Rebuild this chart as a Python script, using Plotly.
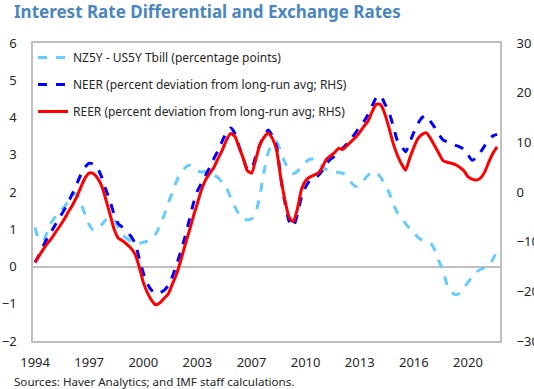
import plotly.graph_objects as go

# Quarterly observations, 1994Q1 - 2021Q4
quarters = [f"{y}Q{q}" for y in range(1994, 2022) for q in range(1, 5)]

# NZ 5-year minus US 5-year T-bill yield (percentage points, left axis)
nz_us_spread = [
    1.05, 0.70, 0.70, 0.95, 1.20, 1.35, 1.48, 1.60, 1.75, 1.92,
    1.95, 1.70, 1.40, 1.12, 0.98, 1.00, 1.12, 1.25, 1.32, 1.25,
    1.05, 0.85, 0.76, 0.68, 0.63, 0.62, 0.65, 0.68, 0.75, 0.88,
    1.10, 1.38, 1.70, 2.00, 2.30, 2.50, 2.65, 2.72, 2.65, 2.56,
    2.54, 2.55, 2.50, 2.45, 2.38, 2.25, 2.10, 1.85, 1.60, 1.40,
    1.28, 1.25, 1.28, 1.45, 1.90, 2.55, 3.05, 3.32, 3.35, 3.10,
    2.80, 2.60, 2.50, 2.55, 2.68, 2.80, 2.88, 2.88, 2.78, 2.68,
    2.60, 2.55, 2.55, 2.52, 2.50, 2.40, 2.25, 2.15, 2.18, 2.32,
    2.45, 2.53, 2.52, 2.40, 2.20, 2.00, 1.70, 1.45, 1.30, 1.15,
    1.02, 0.90, 0.78, 0.71, 0.67, 0.63, 0.45, 0.15, -0.10, -0.50,
    -0.68, -0.76, -0.72, -0.58, -0.42, -0.28, -0.15, -0.08, -0.04, 0.02,
    0.20, 0.40,
]

# Nominal effective exchange rate, % deviation from long-run average (right axis)
neer_dev = [
    -14.2, -12.6, -10.8, -9.2, -7.8, -6.4, -5.0, -3.6, -2.0, -0.3,
    1.6, 3.5, 5.0, 5.8, 5.6, 4.8, 3.0, 0.5, -1.8, -4.5,
    -6.4, -7.1, -7.9, -8.9, -10.3, -13.3, -16.3, -18.5, -19.8, -20.5,
    -20.3, -19.8, -18.8, -17.0, -14.6, -12.0, -9.1, -5.8, -2.4, 0.2,
    1.8, 3.4, 5.0, 6.8, 8.4, 10.3, 12.0, 12.9, 11.8, 9.2,
    6.8, 4.6, 4.6, 7.2, 9.5, 11.2, 12.5, 11.3, 9.2, 3.0,
    -2.0, -5.8, -7.0, -4.6, -1.0, 1.0, 2.3, 2.9, 3.3, 4.3,
    5.7, 6.6, 7.2, 8.0, 8.9, 9.8, 10.8, 11.9, 13.2, 14.2,
    15.6, 17.4, 19.0, 19.4, 17.8, 16.2, 13.4, 10.5, 9.3, 8.1,
    10.0, 12.0, 13.8, 15.0, 15.4, 14.2, 13.0, 11.6, 10.5, 10.1,
    9.7, 9.4, 9.1, 8.6, 7.5, 6.4, 6.9, 8.0, 9.3, 10.5,
    11.3, 11.6,
]

# Real effective exchange rate, % deviation from long-run average (right axis)
reer_dev = [
    -14.1, -12.8, -11.5, -10.3, -9.3, -8.0, -6.8, -5.5, -4.0, -2.6,
    -1.0, 1.0, 2.8, 3.8, 3.7, 2.8, 1.2, -1.5, -4.5, -7.5,
    -9.3, -9.8, -10.5, -11.3, -12.5, -15.0, -18.2, -20.3, -21.8, -22.7,
    -22.3, -21.4, -20.5, -18.5, -16.5, -13.8, -10.8, -8.0, -5.0, -2.3,
    0.5, 2.5, 3.8, 5.0, 6.8, 8.5, 10.5, 11.8, 11.2, 9.0,
    6.8, 4.3, 3.8, 6.5, 9.5, 11.0, 11.9, 10.8, 8.5, 3.0,
    -1.5, -5.0, -6.0, -3.5, 0.5, 2.3, 3.0, 3.4, 3.8, 5.0,
    6.6, 7.3, 8.0, 8.8, 8.6, 9.4, 10.2, 11.0, 12.0, 13.2,
    14.3, 16.2, 17.7, 17.6, 15.8, 13.0, 9.9, 7.5, 5.7, 4.4,
    6.8, 9.0, 10.8, 11.6, 11.9, 10.8, 9.3, 7.8, 6.3, 6.0,
    5.8, 5.5, 5.0, 4.3, 3.1, 2.6, 2.4, 2.8, 4.0, 6.0,
    7.8, 9.1,
]

tick_years = ["1994", "1997", "2000", "2003", "2007", "2010", "2013", "2016", "2020"]
tick_every = 13

FONT = "Noto Sans"
x = list(range(len(quarters)))

fig = go.Figure()
fig.add_trace(go.Scatter(
    x=x, y=nz_us_spread, name="NZ5Y - US5Y Tbill (percentage points)",
    mode="lines", line=dict(color="#66CCFF", width=3, dash="dash", shape="spline", smoothing=0.6),
    legendgroup="a", customdata=quarters,
))
fig.add_trace(go.Scatter(
    x=x, y=neer_dev, name="NEER (percent deviation from long-run avg; RHS)",
    mode="lines", line=dict(color="#0000FF", width=3, dash="dash", shape="spline", smoothing=0.6),
    yaxis="y2", legendgroup="b", customdata=quarters,
))
fig.add_trace(go.Scatter(
    x=x, y=reer_dev, name="REER (percent deviation from long-run avg; RHS)",
    mode="lines", line=dict(color="#FF0000", width=3, shape="spline", smoothing=0.6),
    yaxis="y2", legendgroup="c", customdata=quarters,
))

fig.update_layout(
    width=534, height=389,
    margin=dict(l=33, r=34, t=43, b=48),
    paper_bgcolor="white", plot_bgcolor="white",
    font=dict(family=FONT, size=13, color="#262626"),
    showlegend=True,
    legend=dict(
        x=0.0, y=1.0, xanchor="left", yanchor="top",
        bgcolor="rgba(0,0,0,0)", font=dict(size=12, color="#262626"),
        tracegroupgap=8,
    ),
    xaxis=dict(
        range=[-0.5, 111.7],
        tickvals=[i * tick_every for i in range(len(tick_years))],
        ticktext=tick_years,
        showgrid=False, zeroline=False, automargin=False,
        showline=True, linecolor="#BFBFBF", linewidth=1.5, mirror=True,
        ticks="outside", ticklen=9, tickcolor="rgba(0,0,0,0)",
    ),
    yaxis=dict(
        range=[-2, 6], dtick=1, automargin=False,
        showgrid=False,
        zeroline=True, zerolinecolor="#BFBFBF", zerolinewidth=1.5,
        showline=True, linecolor="#BFBFBF", linewidth=1.5, mirror=True,
        ticks="outside", ticklen=12, tickcolor="rgba(0,0,0,0)",
    ),
    yaxis2=dict(
        range=[-30, 30], dtick=10, overlaying="y", side="right", automargin=False,
        showgrid=False, zeroline=False, showline=False,
        ticks="outside", ticklen=13, tickcolor="rgba(0,0,0,0)",
    ),
    annotations=[
        dict(text="<b>Interest Rate Differential and Exchange Rates</b>",
             xref="paper", yref="paper", x=-0.045, y=1.0, xanchor="left", yanchor="bottom",
             yshift=18, showarrow=False, font=dict(family=FONT, size=17, color="#4A86C0")),
        dict(text="Sources: Haver Analytics; and IMF staff calculations.",
             xref="paper", yref="paper", x=-0.045, y=0, xanchor="left", yanchor="top",
             yshift=-31, showarrow=False, font=dict(family=FONT, size=11.6, color="#262626")),
    ],
)

fig.write_html("out.html")
